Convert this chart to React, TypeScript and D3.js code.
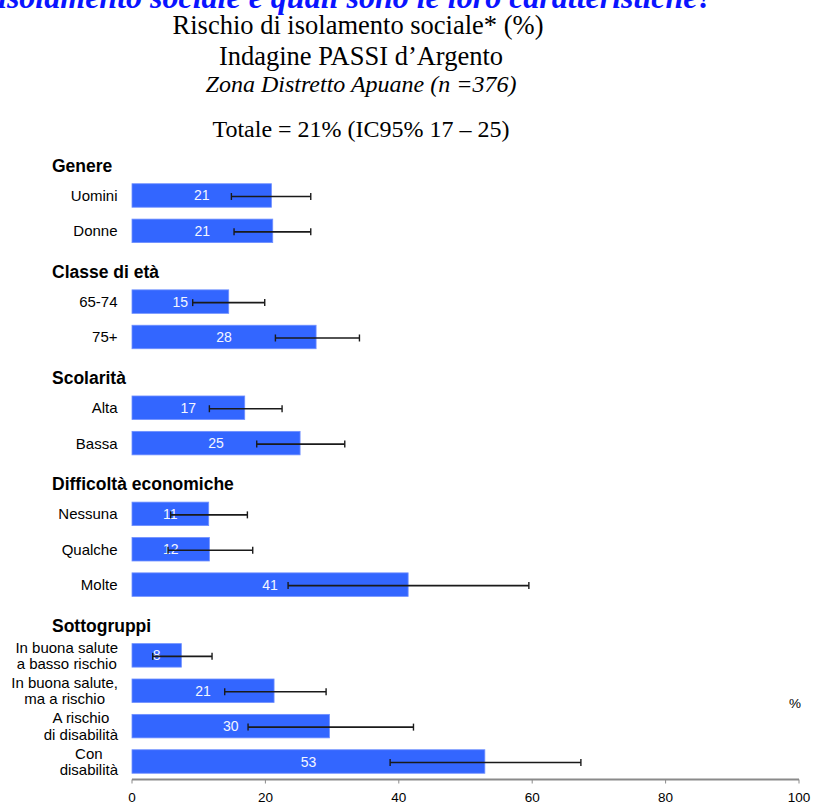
import React from "react";
import * as d3 from "d3";

const headingText = "isolamento sociale e quali sono le loro caratteristiche?";
const titleLines = ["Rischio di isolamento sociale* (%)", "Indagine PASSI d\u2019Argento"];
const subtitle = "Zona Distretto Apuane (n =376)";
const totalText = "Totale = 21% (IC95% 17 \u2013 25)";

const groups = ["Genere", "Classe di età", "Scolarità", "Difficoltà economiche", "Sottogruppi"];
const categories = [
  "Uomini", "Donne",
  "65-74", "75+",
  "Alta", "Bassa",
  "Nessuna", "Qualche", "Molte",
  "In buona salute\na basso rischio", "In buona salute,\nma a rischio", "A rischio\ndi disabilità", "Con\ndisabilità",
];
const categoryGroup = [0, 0, 1, 1, 2, 2, 3, 3, 3, 4, 4, 4, 4];
const values = [20.9, 21.1, 14.5, 27.6, 16.9, 25.2, 11.5, 11.6, 41.4, 7.4, 21.3, 29.6, 52.9];
const valueLabels = ["21", "21", "15", "28", "17", "25", "11", "12", "41", "8", "21", "30", "53"];
const ciLow = [14.9, 15.3, 9.1, 21.5, 11.6, 18.7, 5.8, 5.4, 23.4, 3.1, 13.9, 17.4, 38.7];
const ciHigh = [26.8, 26.8, 19.9, 34.1, 22.5, 31.9, 17.3, 18.1, 59.5, 12.0, 29.1, 42.2, 67.3];
const xTicks = [0, 20, 40, 60, 80, 100];
const unitLabel = "%";

const SANS = "'Liberation Sans', Arial, sans-serif";
const SERIF = "'Liberation Serif', 'Times New Roman', serif";

let measureCtx: CanvasRenderingContext2D | null = null;
function textWidth(s: string, font: string): number {
  if (!measureCtx) {
    const c = document.createElement("canvas");
    measureCtx = c.getContext("2d");
  }
  if (!measureCtx) return s.length * 7;
  measureCtx.font = font;
  return measureCtx.measureText(s).width;
}

type Row = { kind: "header"; g: number } | { kind: "bar"; i: number };

export default function App() {
  const W = 813;
  const H = 805;

  const rows: Row[] = [];
  groups.forEach((_, g) => {
    rows.push({ kind: "header", g });
    categories.forEach((_, i) => {
      if (categoryGroup[i] === g) rows.push({ kind: "bar", i });
    });
  });

  const x = d3.scaleLinear().domain([0, 100]).range([132, 799]);
  const y = d3.scalePoint<number>().domain(d3.range(rows.length)).range([160.1, 761.5]);
  const barH = 23.5;
  const axisY = 779.5;
  const labelRight = 117.5;
  const labelFont = `15px ${SANS}`;

  return (
    <svg
      width={W}
      height={H}
      style={{ position: "absolute", left: 0, top: 0, background: "#fff" }}
    >
      <rect x={0} y={0} width={W} height={H} fill="#fff" />
      {/* cut-off heading */}
      <text
        x={-2}
        y={8}
        fontFamily={SERIF}
        fontSize={32}
        fontWeight="bold"
        fontStyle="italic"
        fill="#0a14ff"
      >
        {headingText}
      </text>
      <text x={358} y={34} textAnchor="middle" fontFamily={SERIF} fontSize={26.5} fill="#000">
        {titleLines[0]}
      </text>
      <text x={361} y={65} textAnchor="middle" fontFamily={SERIF} fontSize={26.5} fill="#000">
        {titleLines[1]}
      </text>
      <text x={361} y={92} textAnchor="middle" fontFamily={SERIF} fontSize={24} fontStyle="italic" fill="#000">
        {subtitle}
      </text>
      <text x={361} y={137} textAnchor="middle" fontFamily={SERIF} fontSize={24} fill="#000">
        {totalText}
      </text>

      {rows.map((r, k) => {
        const cy = y(k) as number;
        if (r.kind === "header") {
          return (
            <text
              key={`h${k}`}
              x={52}
              y={cy + 12}
              fontFamily={SANS}
              fontSize={17.5}
              fontWeight="bold"
              fill="#000"
            >
              {groups[r.g]}
            </text>
          );
        }
        const i = r.i;
        const lines = categories[i].split("\n");
        let labelEls: React.ReactNode;
        if (lines.length === 1) {
          labelEls = (
            <text x={labelRight} y={cy + 5.5} textAnchor="end" fontFamily={SANS} fontSize={15} fill="#000">
              {lines[0]}
            </text>
          );
        } else {
          const maxW = Math.max(...lines.map((l) => textWidth(l, labelFont)));
          const cx = labelRight + 0.5 - maxW / 2;
          labelEls = lines.map((l, j) => (
            <text
              key={j}
              x={cx}
              y={cy + 5.5 + (j - (lines.length - 1) / 2) * 16.5}
              textAnchor="middle"
              fontFamily={SANS}
              fontSize={15}
              fill="#000"
            >
              {l}
            </text>
          ));
        }
        const x0 = x(0);
        const x1 = x(values[i]);
        const lo = x(ciLow[i]);
        const hi = x(ciHigh[i]);
        return (
          <g key={`b${k}`}>
            {labelEls}
            <rect
              x={x0}
              y={cy - barH / 2}
              width={x1 - x0}
              height={barH}
              fill="#3366ff"
              stroke="#7090ff"
              strokeWidth={0.8}
            />
            <text
              x={(x0 + x1) / 2}
              y={cy + 5}
              textAnchor="middle"
              fontFamily={SANS}
              fontSize={14}
              fill="#f4f6ff"
            >
              {valueLabels[i]}
            </text>
            <line x1={lo} x2={hi} y1={cy + 1} y2={cy + 1} stroke="#1a1a1a" strokeWidth={1.6} />
            <line x1={lo} x2={lo} y1={cy + 1 - 3.5} y2={cy + 1 + 3.5} stroke="#1a1a1a" strokeWidth={1.4} />
            <line x1={hi} x2={hi} y1={cy + 1 - 3.5} y2={cy + 1 + 3.5} stroke="#1a1a1a" strokeWidth={1.4} />
          </g>
        );
      })}

      {/* x axis */}
      <line x1={x(0)} x2={x(100)} y1={axisY} y2={axisY} stroke="#8a8a8a" strokeWidth={2} />
      {xTicks.map((t) => (
        <g key={t}>
          <line x1={x(t)} x2={x(t)} y1={axisY} y2={axisY + 4} stroke="#8a8a8a" strokeWidth={1} />
          <text x={x(t)} y={802} textAnchor="middle" fontFamily={SANS} fontSize={13.5} fill="#000">
            {t}
          </text>
        </g>
      ))}
      <text x={795} y={708} textAnchor="middle" fontFamily={SANS} fontSize={13.5} fill="#000">
        {unitLabel}
      </text>
    </svg>
  );
}
